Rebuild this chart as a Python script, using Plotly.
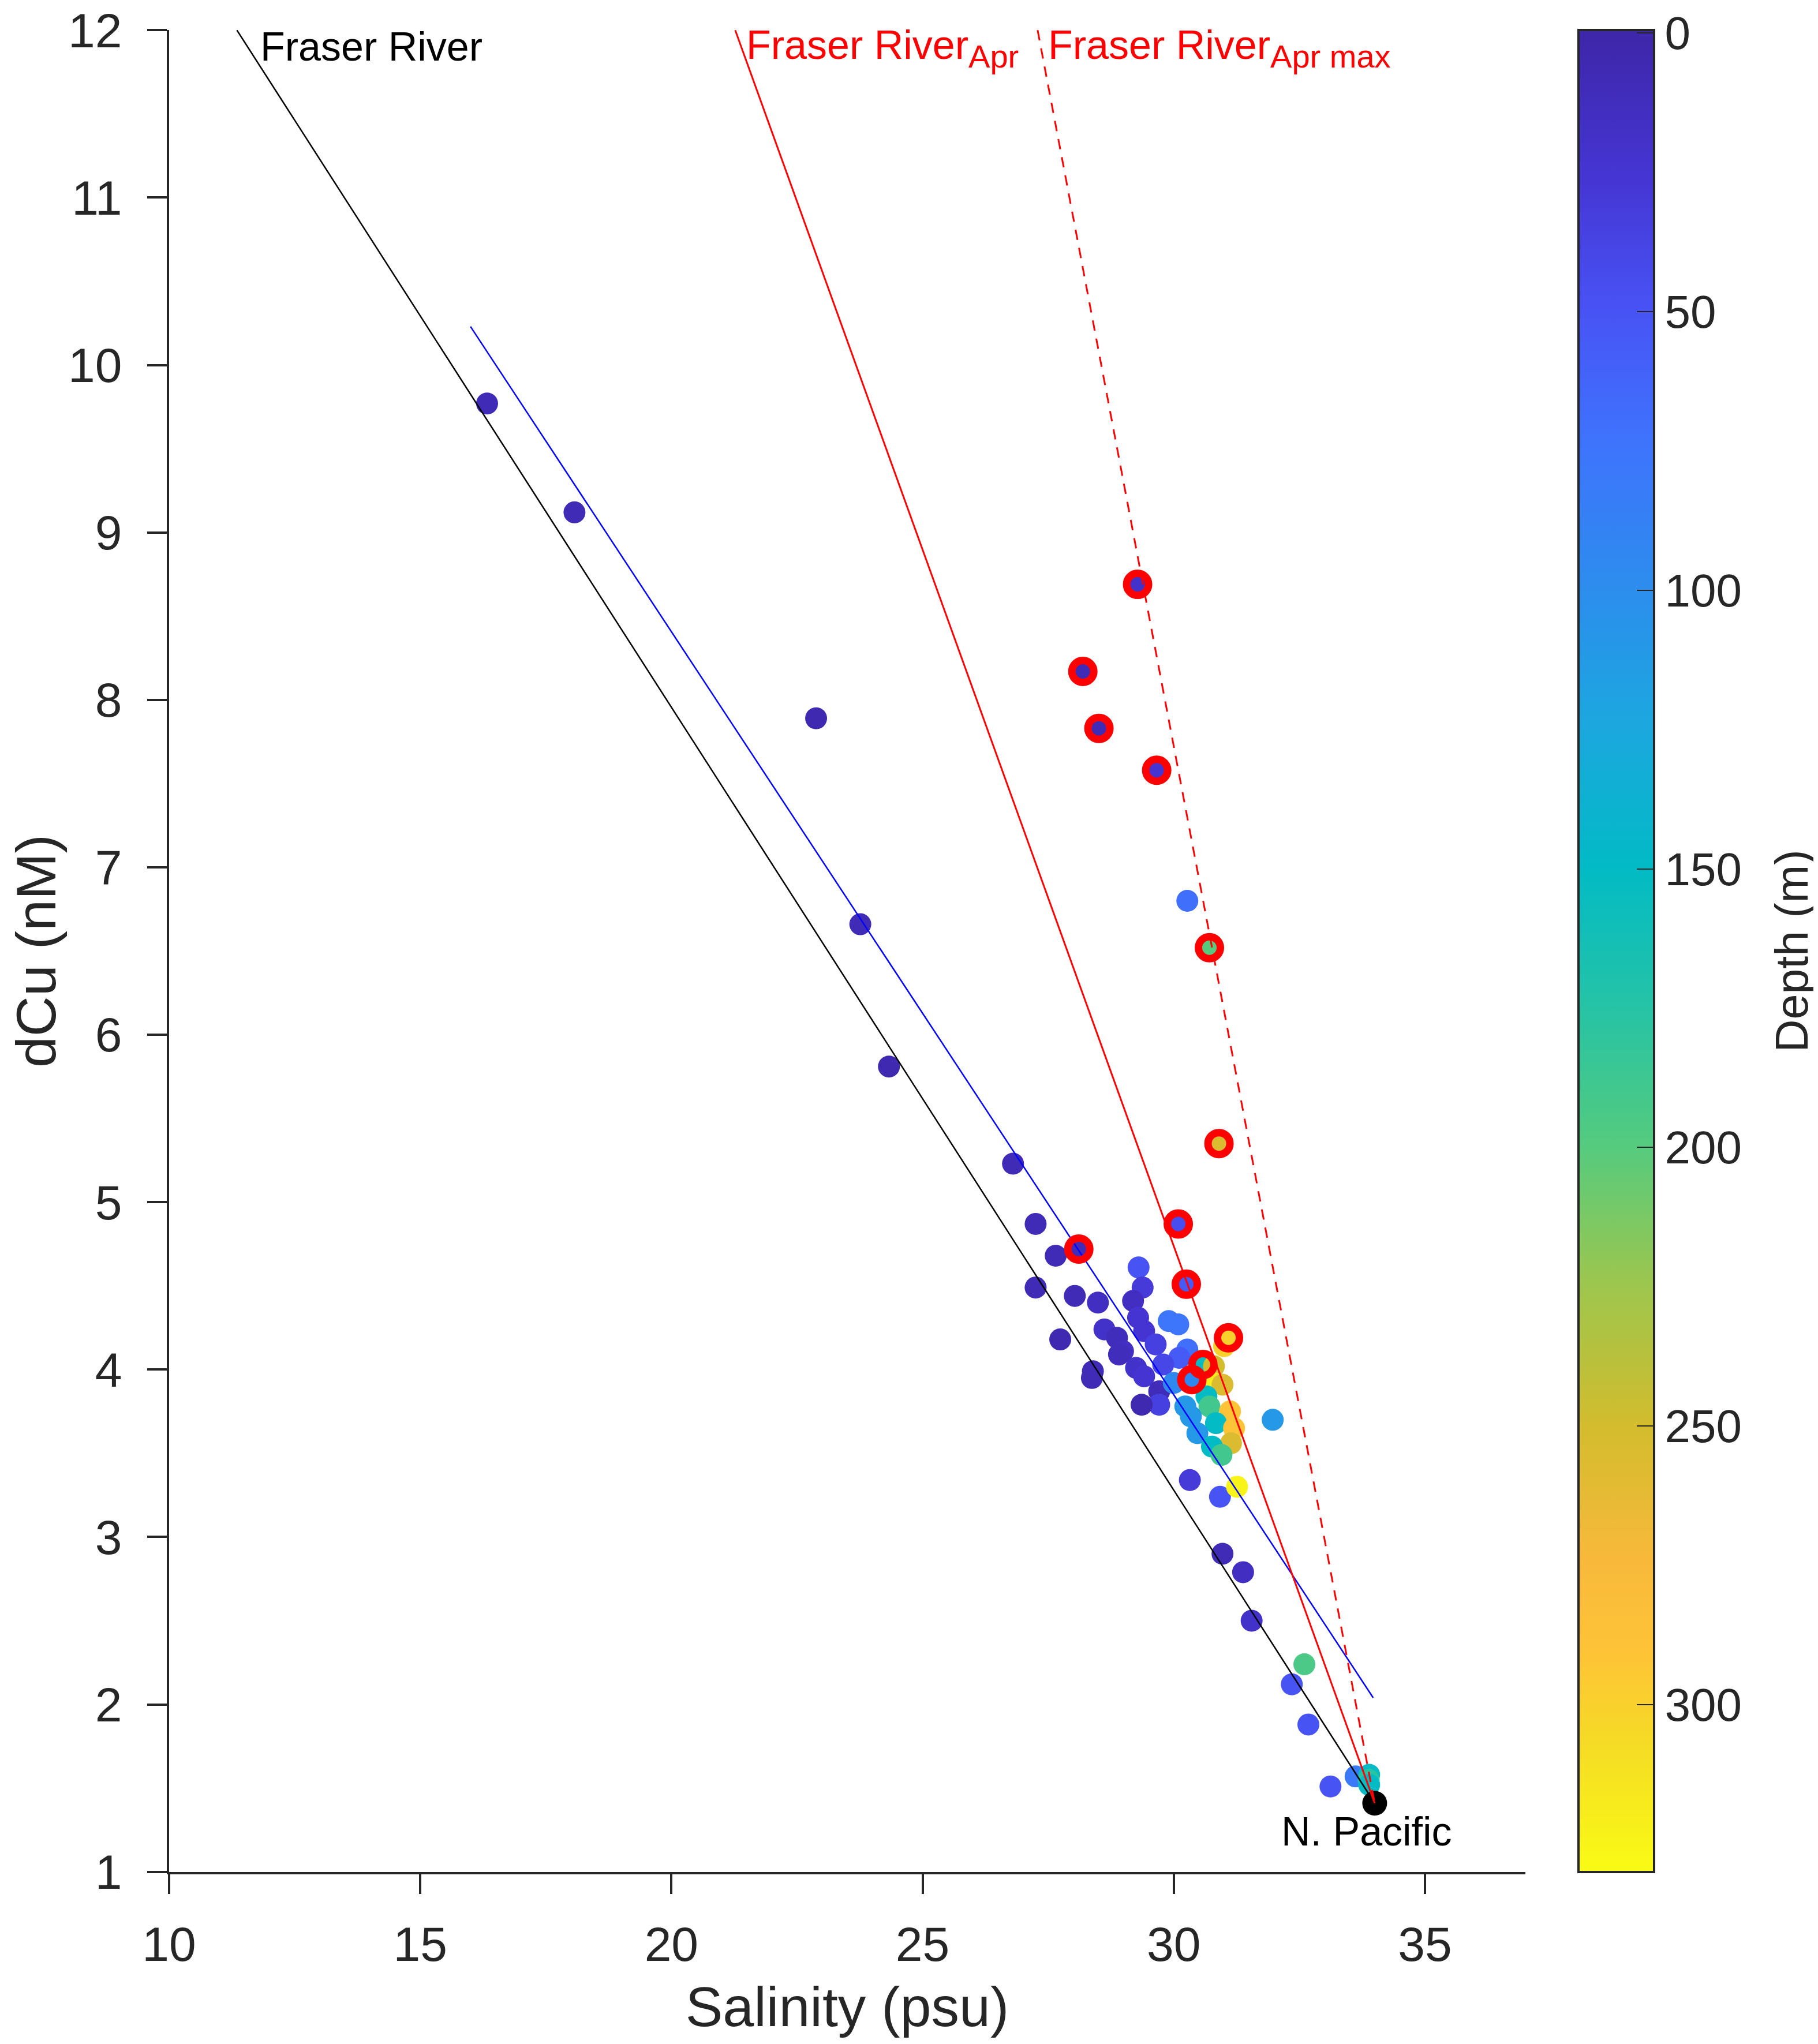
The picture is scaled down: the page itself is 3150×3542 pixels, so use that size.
import plotly.graph_objects as go

# samples: salinity (psu), dissolved Cu (nM), depth (m), April samples flagged
salinity = [16.33, 18.07, 22.88, 23.76, 24.33, 26.80,
            27.25, 27.65, 28.11, 27.25, 28.03, 28.49, 29.30, 29.38, 29.19, 29.29,
            29.41, 28.62, 28.87, 28.99, 28.91, 27.74, 28.39, 28.37, 29.64, 29.90,
            30.09, 30.25, 30.09, 30.27, 30.11, 29.25, 29.41, 29.79, 29.71, 29.71,
            29.36, 30.58, 30.36, 31.00, 31.09, 30.00, 30.80, 30.78, 30.97, 30.65,
            30.23, 30.71, 30.34, 31.12, 30.84, 31.20, 30.47, 31.14, 30.76, 30.95,
            31.97, 30.32, 30.92, 31.26, 30.97, 31.38, 31.55, 32.60, 32.35, 32.68,
            33.12, 33.62, 33.89, 33.88, 33.89,
            29.28, 28.19, 28.51, 29.66, 30.27, 30.71, 30.90]
dcu = [9.77, 9.12, 7.89, 6.66, 5.81, 5.23,
       4.87, 4.68, 4.72, 4.49, 4.44, 4.40, 4.61, 4.49, 4.41, 4.31,
       4.23, 4.24, 4.19, 4.11, 4.09, 4.18, 3.99, 3.95, 4.15, 4.29,
       4.27, 4.51, 4.87, 4.12, 4.07, 4.01, 3.96, 4.03, 3.87, 3.79,
       3.79, 4.03, 3.94, 4.14, 4.19, 3.92, 4.02, 3.92, 3.91, 3.84,
       3.78, 3.78, 3.72, 3.75, 3.68, 3.65, 3.62, 3.56, 3.54, 3.49,
       3.70, 3.34, 3.24, 3.30, 2.90, 2.79, 2.50, 2.24, 2.12, 1.88,
       1.51, 1.57, 1.58, 1.55, 1.52,
       8.69, 8.17, 7.83, 7.58, 6.80, 6.52, 5.35]
depth = [8, 8, 5, 8, 5, 8,
         8, 8, 10, 8, 8, 15, 50, 30, 15, 25,
         25, 20, 12, 15, 12, 5, 8, 8, 35, 75,
         75, 55, 45, 70, 55, 20, 25, 40, 10, 35,
         5, 150, 95, 300, 300, 95, 250, 320, 255, 150,
         110, 190, 110, 290, 150, 290, 110, 255, 150, 190,
         110, 30, 50, 325, 8, 15, 20, 195, 50, 50,
         50, 80, 150, 175, 150,
         20, 8, 8, 25, 70, 200, 255]
april = [0, 0, 0, 0, 0, 0,
         0, 0, 1, 0, 0, 0, 0, 0, 0, 0,
         0, 0, 0, 0, 0, 0, 0, 0, 0, 0,
         0, 1, 1, 0, 0, 0, 0, 0, 0, 0,
         0, 1, 1, 0, 1, 0, 0, 0, 0, 0,
         0, 0, 0, 0, 0, 0, 0, 0, 0, 0,
         0, 0, 0, 0, 0, 0, 0, 0, 0, 0,
         0, 0, 0, 0, 0,
         1, 1, 1, 1, 0, 1, 1]

# end members and mixing lines
npac_sal, npac_cu = [34.0], [1.41]
fraser_x, fraser_y = [11.35, 34.0], [12.0, 1.41]
fit_x, fit_y = [16.0, 33.97], [10.23, 2.04]
apr_x, apr_y = [21.27, 34.0], [12.0, 1.41]
aprmax_x, aprmax_y = [27.29, 34.0], [12.0, 1.41]

depth_ticks = [0, 50, 100, 150, 200, 250, 300]

# parula-like colours, yellow (deep) -> dark blue (surface) on the negated depth
parula = [
    [0.0, "#F9FB14"], [0.07, "#F5DB25"], [0.12, "#FEC337"], [0.17, "#F8B93B"],
    [0.242, "#D3BC2D"], [0.32, "#9CC64E"], [0.394, "#55CB7E"], [0.47, "#25C3A6"],
    [0.545, "#02BBC5"], [0.62, "#1BA8DE"], [0.70, "#2D8CEE"], [0.78, "#3F72FD"],
    [0.85, "#4852F4"], [0.92, "#4535D3"], [1.0, "#3E26A8"],
]

FONT = "Liberation Sans"
AX = "#262626"

fig = go.Figure()

fig.add_trace(go.Scatter(
    x=salinity, y=dcu, mode="markers",
    marker=dict(size=38, color=[-d for d in depth], cmin=-330, cmax=0.5,
                colorscale=parula, line=dict(width=0),
                colorbar=dict(
                    x=1.039, xanchor="left", y=0.5, yanchor="middle",
                    len=1, lenmode="fraction", thickness=131, thicknessmode="pixels",
                    xpad=0, ypad=0, outlinewidth=4, outlinecolor=AX,
                    ticks="inside", ticklen=32, tickwidth=2, tickcolor=AX,
                    ticklabeloverflow="allow",
                    tickvals=[-t for t in depth_ticks], ticktext=[str(t) for t in depth_ticks],
                    tickfont=dict(family=FONT, size=80, color=AX),
                )),
    showlegend=False, hoverinfo="x+y",
))

fig.add_trace(go.Scatter(x=npac_sal, y=npac_cu, mode="markers",
                         marker=dict(size=43, color="black"), showlegend=False))

fig.add_trace(go.Scatter(x=fraser_x, y=fraser_y, mode="lines",
                         line=dict(color="black", width=2.5), showlegend=False))
fig.add_trace(go.Scatter(x=fit_x, y=fit_y, mode="lines",
                         line=dict(color="blue", width=2.5), showlegend=False))
fig.add_trace(go.Scatter(x=apr_x, y=apr_y, mode="lines",
                         line=dict(color="red", width=3), showlegend=False))
fig.add_trace(go.Scatter(x=aprmax_x, y=aprmax_y, mode="lines",
                         line=dict(color="red", width=3, dash="18px,14px"), showlegend=False))

# red rings on the April samples
ring_x = [s for s, a in zip(salinity, april) if a]
ring_y = [c for c, a in zip(dcu, april) if a]
fig.add_trace(go.Scatter(x=ring_x, y=ring_y, mode="markers",
                         marker=dict(size=38, color="rgba(0,0,0,0)",
                                     line=dict(color="red", width=13)),
                         showlegend=False))

def label(x, y, text, color):
    fig.add_annotation(x=x, y=y, text=text, showarrow=False, xref="x", yref="y",
                       xanchor="left", yanchor="middle",
                       font=dict(family=FONT, size=70, color=color))

SUB = "<sub><span style='font-size:56px'>%s</span></sub>"
label(11.79, 11.90, "Fraser River", "black")
label(21.47, 11.89, "Fraser River" + SUB % "Apr", "red")
label(27.47, 11.89, "Fraser River" + SUB % "Apr max", "red")
label(32.12, 1.24, "N. Pacific", "black")

# colorbar title
fig.add_annotation(x=1.196, y=0.5, xref="paper", yref="paper", text="Depth (m)",
                   textangle=-90, showarrow=False, xanchor="center", yanchor="middle",
                   font=dict(family=FONT, size=79, color=AX))

axis = dict(showline=True, linecolor=AX, linewidth=3.5, ticks="outside", ticklen=34,
            tickwidth=3.5, tickcolor=AX, showgrid=False, zeroline=False, mirror=False,
            automargin=False, ticklabeloverflow="allow",
            tickfont=dict(family=FONT, size=84, color=AX))
fig.update_xaxes(range=[10, 37], tickvals=[10, 15, 20, 25, 30, 35], ticklabelstandoff=15,
                 title=dict(text="Salinity (psu)", font=dict(family=FONT, size=97, color=AX),
                            standoff=30), **axis)
fig.update_yaxes(range=[0.999, 12.001], tickvals=list(range(1, 13)), ticklabelstandoff=27,
                 title=dict(text="dCu (nM)", font=dict(family=FONT, size=97, color=AX),
                            standoff=70), **axis)

fig.update_layout(width=3150, height=3542,
                  margin=dict(l=285, r=515, t=44, b=306, autoexpand=False),
                  plot_bgcolor="white", paper_bgcolor="white")

fig.write_html("out.html")
